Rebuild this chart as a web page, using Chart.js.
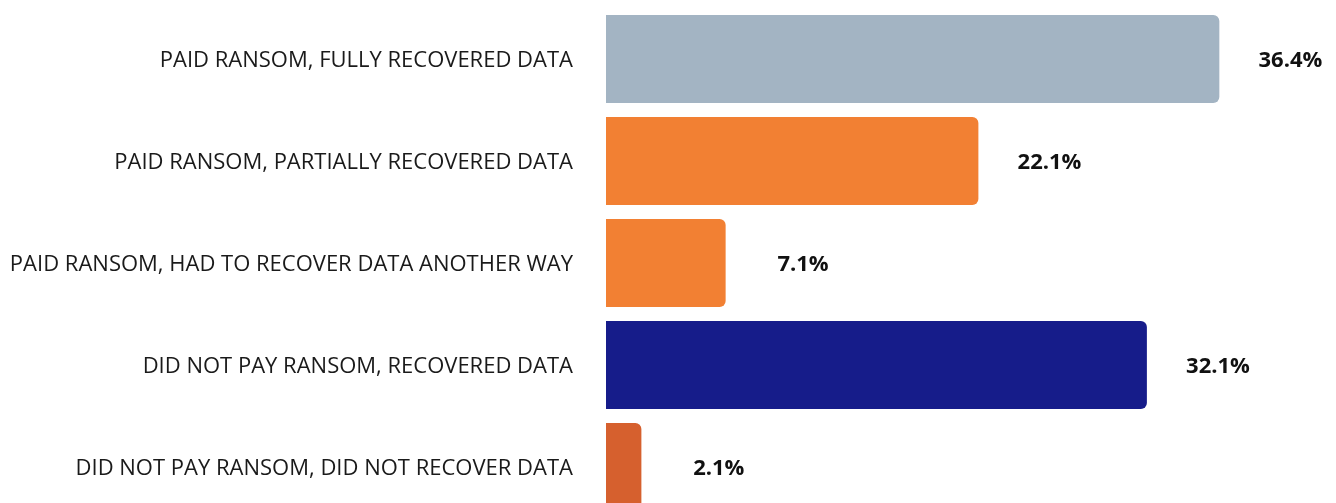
<!DOCTYPE html>
<html>
<head>
<meta charset="utf-8">
<script src="https://cdn.jsdelivr.net/npm/chart.js@4.4.0/dist/chart.umd.min.js"></script>
<style>
  html, body { margin: 0; padding: 0; background: #fff; overflow: hidden; }
</style>
</head>
<body>
<canvas id="myChart" width="1336" height="518"></canvas>
<script>
var categories = [
  "PAID RANSOM, FULLY RECOVERED DATA",
  "PAID RANSOM, PARTIALLY RECOVERED DATA",
  "PAID RANSOM, HAD TO RECOVER DATA ANOTHER WAY",
  "DID NOT PAY RANSOM, RECOVERED DATA",
  "DID NOT PAY RANSOM, DID NOT RECOVER DATA"
];
var values = [36.4, 22.1, 7.1, 32.1, 2.1];
var barColors = ["#a3b4c3", "#f28033", "#f28033", "#161c8a", "#d6602e"];

// category names on the left and percents next to each bar
// (drawn by hand so the caps sit centred on the bar)
var textLabels = {
  id: "textLabels",
  afterDatasetsDraw: function(chart) {
    var ctx = chart.ctx;
    var meta = chart.getDatasetMeta(0);
    var yScale = chart.scales.y;
    ctx.save();
    ctx.textBaseline = "alphabetic";

    ctx.font = "22px 'Open Sans'";
    ctx.fillStyle = "#1a1a1a";
    ctx.textAlign = "right";
    categories.forEach(function(name, i) {
      ctx.fillText(name, yScale.right - 33, yScale.getPixelForTick(i) + 8);
    });

    ctx.font = "bold 22px 'Open Sans'";
    ctx.fillStyle = "#111";
    meta.data.forEach(function(bar, i) {
      ctx.fillText(values[i].toFixed(1) + "%", bar.x + 103, bar.y + 8);
    });
    ctx.restore();
  }
};

var ctx = document.getElementById("myChart").getContext("2d");
var myChart = new Chart(ctx, {
  type: "bar",
  data: {
    labels: categories,
    datasets: [{
      data: values,
      backgroundColor: barColors,
      borderRadius: 6,
      borderSkipped: "start",
      barPercentage: 1,
      categoryPercentage: 88 / 102
    }]
  },
  options: {
    indexAxis: "y",
    responsive: false,
    animation: false,
    layout: { padding: { top: 8, right: 56, bottom: 0, left: 0 } },
    plugins: { legend: { display: false }, tooltip: { enabled: false } },
    scales: {
      x: { display: false, min: 0, max: 40 },
      y: {
        grid: { display: false, drawTicks: false },
        border: { display: false },
        ticks: { display: false },
        afterFit: function(scale) {
          scale.width = 606;
          scale.paddingTop = 0;
          scale.paddingBottom = 0;
        }
      }
    }
  },
  plugins: [textLabels]
});
</script>
</body>
</html>
